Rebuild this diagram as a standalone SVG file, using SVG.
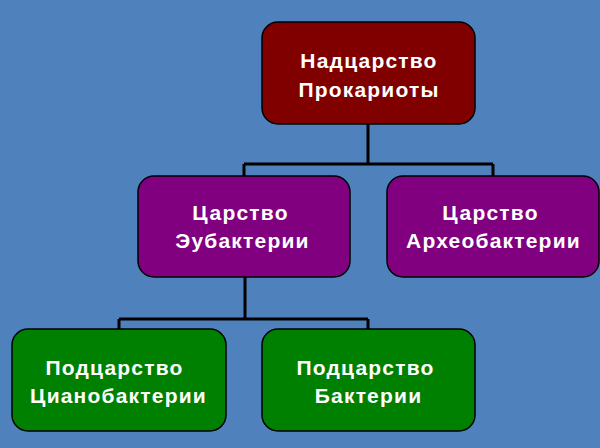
<svg xmlns="http://www.w3.org/2000/svg" width="600" height="448" viewBox="0 0 600 448">
<style>
.box{stroke:#000;stroke-width:1.5}
.t{font-family:"Liberation Sans",Arial,sans-serif;font-weight:bold;font-size:21px;fill:#fff;text-anchor:middle;letter-spacing:1.2px}
.c{fill:none;stroke:#000;stroke-width:3}
</style>
<rect width="600" height="448" fill="#4F81BD"/>
<g id="connectors">
<path class="c" d="M368 124 V164 M244 164 H493 M244 164 V176 M493 164 V176"/>
<path class="c" d="M245 277 V319 M119 319 H368 M119 319 V329 M368 319 V329"/>
</g>
<g id="n1"><rect class="box" x="262" y="22" width="213" height="102" rx="16" fill="#800000"/>
<text class="t" x="369" y="68">Надцарство</text><text class="t" x="369" y="97">Прокариоты</text></g>
<g id="n2"><rect class="box" x="138" y="176" width="212" height="101" rx="16" fill="#800080"/>
<text class="t" x="240.5" y="220">Царство</text><text class="t" x="242.5" y="248">Эубактерии</text></g>
<g id="n3"><rect class="box" x="387" y="176" width="212" height="101" rx="16" fill="#800080"/>
<text class="t" x="490.5" y="220">Царство</text><text class="t" x="493.5" y="248">Археобактерии</text></g>
<g id="n4"><rect class="box" x="12" y="329" width="214" height="102" rx="16" fill="#008000"/>
<text class="t" x="114.5" y="375">Подцарство</text><text class="t" x="118.5" y="403">Цианобактерии</text></g>
<g id="n5"><rect class="box" x="262" y="329" width="213" height="102" rx="16" fill="#008000"/>
<text class="t" x="365.5" y="375">Подцарство</text><text class="t" x="368.5" y="403">Бактерии</text></g>
</svg>
